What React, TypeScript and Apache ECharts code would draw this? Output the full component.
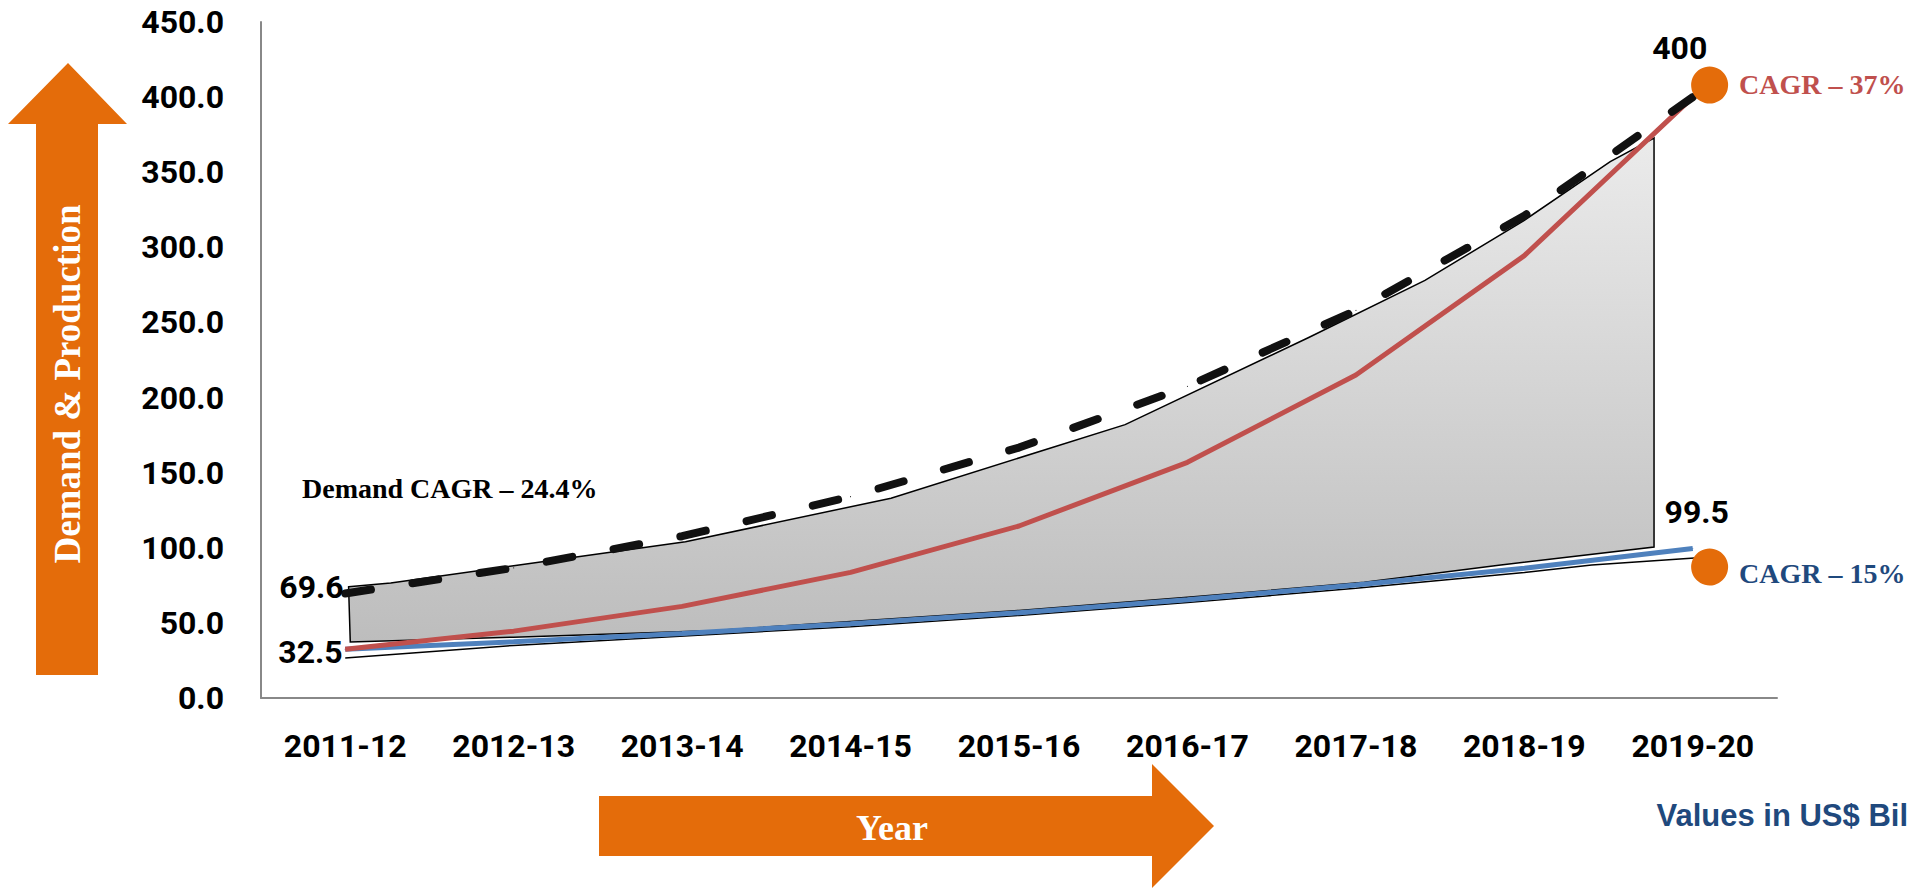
import React, { useEffect, useRef } from 'react';
import * as echarts from 'echarts';

// ---- data ----
const categories = ['2011-12', '2012-13', '2013-14', '2014-15', '2015-16', '2016-17', '2017-18', '2018-19', '2019-20'];
const demand = [69.6, 86.6, 107.7, 134.0, 166.7, 207.4, 258.0, 321.0, 400.0];
const productionHigh = [32.5, 44.5, 61.0, 83.6, 114.5, 156.9, 215.0, 294.5, 400.0];
const productionBase = [32.5, 37.4, 43.0, 49.4, 56.8, 65.4, 75.2, 86.4, 99.5];

// shaded freeform band (category position, value)
const shadeX = [0.02, 0.27, 1.0, 2.02, 3.24, 4.63, 5.72, 6.41, 7.0, 7.51, 7.77, 7.77, 6.86, 6.05, 5.0, 4.0, 3.0, 2.2, 1.0, 0.03];
const shadeY = [74, 76.5, 88, 104, 133, 182, 240, 278, 318, 357, 372.8, 100.5, 88.5, 77, 67, 58.3, 51, 45, 40.5, 37.3];

// thin black guide line under the base production line
const lowerX = [0, 1, 2.2, 3, 4, 5, 6, 7, 7.4, 8.01];
const lowerY = [26.6, 35, 42.5, 47.5, 55, 63.5, 73, 83.5, 88.5, 93.2];

// end markers
const markerX = [8.1, 8.1];
const markerY = [408, 87.2];
const markerLabels = ['CAGR – 37%', 'CAGR – 15%'];

const yMin = 0;
const yMax = 450;
const yInterval = 50;

const FONT_NUM = 'Roboto, "Open Sans", "DejaVu Sans", sans-serif';
const FONT_SERIF = '"Liberation Serif", "DejaVu Serif", serif';
const FONT_SANS = '"Liberation Sans", Arial, sans-serif';

const ORANGE = '#e46c0a';
const RED = '#c0504d';
const BLUE = '#4f81bd';
const NAVY = '#1f497d';

export default function App() {
  const ref = useRef<HTMLDivElement>(null);

  useEffect(() => {
    if (!ref.current) return;
    const chart = echarts.init(ref.current, null, { renderer: 'svg' });

    const numLabel = {
      fontFamily: FONT_NUM,
      fontSize: 32,
      fontWeight: 'bold' as const,
      color: '#000',
      lineHeight: 32,
      formatter: (p: any) => String(Array.isArray(p.value) ? p.value[1] : p.value),
    };

    const demandData = demand.map((v, i) => {
      if (i === 0) return { value: v, label: { show: true, position: 'left', distance: 1, offset: [0, -6], ...numLabel } };
      if (i === demand.length - 1) return { value: v, label: { show: true, position: 'top', distance: 33, offset: [-13, 0], ...numLabel } };
      return { value: v };
    });
    const baseData = productionBase.map((v, i) => {
      if (i === 0) return { value: v, label: { show: true, position: 'left', distance: 2, offset: [0, 3], ...numLabel } };
      if (i === productionBase.length - 1) return { value: v, label: { show: true, position: 'top', distance: 20, offset: [4, 0], ...numLabel } };
      return { value: v };
    });

    const gradient = new echarts.graphic.LinearGradient(0, 0, 0, 1, [
      { offset: 0, color: '#ebebeb' },
      { offset: 1, color: '#bdbdbd' },
    ]);

    const option: any = {
      animation: false,
      backgroundColor: '#ffffff',
      textStyle: { fontFamily: FONT_NUM },
      grid: { left: 261, right: 152, top: 22, bottom: 190, containLabel: false },
      xAxis: [
        {
          type: 'category',
          data: categories,
          boundaryGap: true,
          axisLine: { show: true, onZero: false, lineStyle: { color: '#888888', width: 2 } },
          axisTick: { show: false },
          splitLine: { show: false },
          axisLabel: {
            fontFamily: FONT_NUM,
            fontSize: 32,
            fontWeight: 'bold',
            color: '#000',
            margin: 32,
            lineHeight: 32,
            interval: 0,
          },
        },
        {
          type: 'value',
          min: -0.5,
          max: 8.5,
          show: false,
          axisLine: { show: false, onZero: false },
          splitLine: { show: false },
        },
      ],
      yAxis: {
        type: 'value',
        min: yMin,
        max: yMax,
        interval: yInterval,
        axisLine: { show: true, onZero: false, lineStyle: { color: '#888888', width: 2 } },
        axisTick: { show: false },
        splitLine: { show: false },
        axisLabel: {
          fontFamily: FONT_NUM,
          fontSize: 32,
          fontWeight: 'bold',
          color: '#000',
          margin: 37,
          formatter: (v: number) => v.toFixed(1),
        },
      },
      series: [
        {
          type: 'custom',
          name: 'Gap',
          xAxisIndex: 1,
          yAxisIndex: 0,
          clip: false,
          z: 1,
          silent: true,
          data: [[0, 0]],
          renderItem: (_params: any, api: any) => {
            const pts = shadeX.map((x, i) => api.coord([x, shadeY[i]]));
            return {
              type: 'polygon',
              shape: { points: pts },
              style: { fill: gradient, stroke: '#000', lineWidth: 1.5 },
            };
          },
        },
        {
          type: 'line',
          name: 'Guide',
          xAxisIndex: 1,
          z: 2,
          symbol: 'none',
          data: lowerX.map((x, i) => [x, lowerY[i]]),
          lineStyle: { color: '#000', width: 1.5 },
        },
        {
          type: 'line',
          name: 'Production (15%)',
          xAxisIndex: 0,
          z: 3,
          symbol: 'circle',
          symbolSize: 1,
          showSymbol: true,
          itemStyle: { color: BLUE },
          lineStyle: { color: BLUE, width: 5 },
          data: baseData,
        },
        {
          type: 'line',
          name: 'Production (37%)',
          xAxisIndex: 0,
          z: 4,
          symbol: 'circle',
          symbolSize: 1,
          showSymbol: true,
          itemStyle: { color: RED },
          lineStyle: { color: RED, width: 5 },
          data: productionHigh,
        },
        {
          type: 'line',
          name: 'Demand',
          xAxisIndex: 0,
          z: 5,
          symbol: 'circle',
          symbolSize: 1,
          showSymbol: true,
          itemStyle: { color: '#111' },
          lineStyle: { color: '#111', width: 8, type: [26, 42], cap: 'round' },
          data: demandData,
        },
        {
          type: 'scatter',
          name: 'CAGR',
          xAxisIndex: 1,
          z: 6,
          symbol: 'circle',
          symbolSize: 37,
          itemStyle: { color: ORANGE, opacity: 1 },
          data: markerX.map((x, i) => ({
            value: [x, markerY[i]],
            label: {
              show: true,
              position: 'right',
              distance: 11,
              offset: [0, i === 0 ? -1 : 6],
              formatter: markerLabels[i],
              fontFamily: FONT_SERIF,
              fontWeight: 'bold',
              fontSize: 28,
              color: i === 0 ? RED : NAVY,
              opacity: 1,
            },
          })),
        },
      ],
      graphic: [
        {
          type: 'polygon',
          silent: true,
          shape: { points: [[68, 63], [127, 124], [98, 124], [98, 675], [36, 675], [36, 124], [8, 124]] },
          style: { fill: ORANGE },
        },
        {
          type: 'text',
          x: 67,
          y: 384,
          rotation: Math.PI / 2,
          silent: true,
          style: {
            text: 'Demand & Production',
            fill: '#ffffff',
            fontFamily: FONT_SERIF,
            fontWeight: 'bold',
            fontSize: 37,
            align: 'center',
            verticalAlign: 'middle',
          },
        },
        {
          type: 'polygon',
          silent: true,
          shape: { points: [[599, 796], [1152, 796], [1152, 764], [1214, 826], [1152, 888], [1152, 856], [599, 856]] },
          style: { fill: ORANGE },
        },
        {
          type: 'text',
          x: 892,
          y: 828,
          silent: true,
          style: {
            text: 'Year',
            fill: '#ffffff',
            fontFamily: FONT_SERIF,
            fontWeight: 'bold',
            fontSize: 36,
            align: 'center',
            verticalAlign: 'middle',
          },
        },
        {
          type: 'text',
          x: 302,
          y: 488,
          silent: true,
          style: {
            text: 'Demand CAGR – 24.4%',
            fill: '#000',
            fontFamily: FONT_SERIF,
            fontWeight: 'bold',
            fontSize: 28,
            align: 'left',
            verticalAlign: 'middle',
          },
        },
        {
          type: 'text',
          x: 1908,
          y: 815,
          silent: true,
          style: {
            text: 'Values in US$ Bil',
            fill: NAVY,
            fontFamily: FONT_SANS,
            fontWeight: 'bold',
            fontSize: 31,
            align: 'right',
            verticalAlign: 'middle',
          },
        },
      ],
    };

    chart.setOption(option);
    const onResize = () => chart.resize();
    window.addEventListener('resize', onResize);
    return () => {
      window.removeEventListener('resize', onResize);
      chart.dispose();
    };
  }, []);

  return (
    <div
      ref={ref}
      style={{ position: 'fixed', left: 0, top: 0, width: '1929px', height: '888px', background: '#fff' }}
    />
  );
}
